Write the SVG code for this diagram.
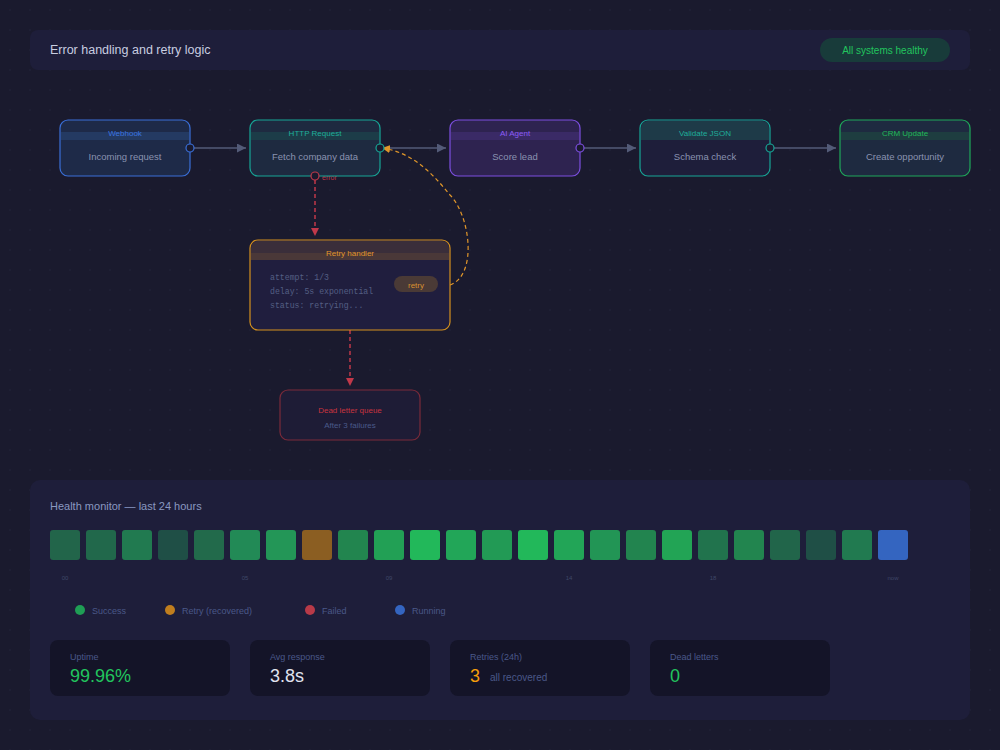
<svg xmlns="http://www.w3.org/2000/svg" width="1000" height="750" viewBox="0 0 1000 750">
<defs>
<pattern id="dots" x="0" y="0" width="20" height="20" patternUnits="userSpaceOnUse">
<circle cx="10" cy="10" r="0.9" fill="#1f2036"/>
</pattern>
<marker id="arrGray" viewBox="0 0 10 10" refX="10" refY="5" markerWidth="9" markerHeight="9" markerUnits="userSpaceOnUse" orient="auto">
<path d="M0,0 L10,5 L0,10 z" fill="#535b78"/>
</marker>
<marker id="arrRed" viewBox="0 0 10 10" refX="10" refY="5" markerWidth="8" markerHeight="8" markerUnits="userSpaceOnUse" orient="auto">
<path d="M0,0 L10,5 L0,10 z" fill="#c0384a"/>
</marker>
<marker id="arrOrange" viewBox="0 0 10 10" refX="10" refY="5" markerWidth="8" markerHeight="8" markerUnits="userSpaceOnUse" orient="auto">
<path d="M0,0 L10,5 L0,10 z" fill="#e0962a"/>
</marker>
</defs>
<style>
text{font-family:"Liberation Sans",Arial,sans-serif}
.hdr{font-size:8px;text-anchor:middle}
.body{font-size:9.5px;fill:#8a93b0;text-anchor:middle}
.mono{font-family:"Liberation Mono","DejaVu Sans Mono",monospace;font-size:8.2px;fill:#545e84}
.conn{stroke:#535b78;stroke-width:1.5;fill:none}
.port{fill:#1a1a2e;stroke-width:1.2}
.lg{font-size:9px;fill:#4a5888}
.card{fill:#141428}
.clab{font-size:9px;fill:#4a5888}
.cval{font-size:18px}
.tl{font-size:6px;fill:#3e4768;text-anchor:middle}
</style>
<rect width="1000" height="750" fill="#1a1a2e"/>
<rect width="1000" height="750" fill="url(#dots)"/>

<g id="header">
<rect x="30" y="30" width="940" height="40" rx="8" fill="#1e1e3a"/>
<text x="50" y="54" font-size="12.5" fill="#c8cde0">Error handling and retry logic</text>
<rect x="820" y="38" width="130" height="24" rx="12" fill="#183b3a"/>
<text x="885" y="54" font-size="10" fill="#22c55e" text-anchor="middle">All systems healthy</text>
</g>

<g id="connectors">
<line class="conn" x1="194" y1="148" x2="246" y2="148" marker-end="url(#arrGray)"/>
<line class="conn" x1="384" y1="148" x2="446" y2="148" marker-end="url(#arrGray)"/>
<line class="conn" x1="584" y1="148" x2="636" y2="148" marker-end="url(#arrGray)"/>
<line class="conn" x1="774" y1="148" x2="836" y2="148" marker-end="url(#arrGray)"/>
<line x1="315" y1="180" x2="315" y2="236" stroke="#c0384a" stroke-width="1.5" stroke-dasharray="4,3" marker-end="url(#arrRed)"/>
<line x1="350" y1="330" x2="350" y2="386" stroke="#c0384a" stroke-width="1.5" stroke-dasharray="4,3" marker-end="url(#arrRed)"/>
<path d="M450,285 C478,275 470,215 450,195 C430,170 410,152 382,148" fill="none" stroke="#e0962a" stroke-width="1.2" stroke-dasharray="4,3" marker-end="url(#arrOrange)"/>
<text x="322" y="180" font-size="7" fill="#c0384a">error</text>
</g>

<g id="node-webhook">
<rect x="60" y="120" width="130" height="56" rx="8" fill="#1e2a48" stroke="#3a6fd8" stroke-width="1.2"/>
<rect x="61" y="132" width="128" height="8" fill="#243a62"/>
<text class="hdr" x="125" y="136" fill="#3b74e0">Webhook</text>
<text class="body" x="125" y="160">Incoming request</text>
<circle class="port" cx="190" cy="148" r="4" stroke="#3a6fd8"/>
</g>

<g id="node-http">
<rect x="250" y="120" width="130" height="56" rx="8" fill="#1e2a40" stroke="#17a596" stroke-width="1.2"/>
<rect x="251" y="132" width="128" height="8" fill="#1c3c48"/>
<text class="hdr" x="315" y="136" fill="#1fae9a">HTTP Request</text>
<text class="body" x="315" y="160">Fetch company data</text>
<circle class="port" cx="380" cy="148" r="4" stroke="#17a596"/>
<circle class="port" cx="315" cy="176" r="4" stroke="#c0384a"/>
</g>

<g id="node-ai">
<rect x="450" y="120" width="130" height="56" rx="8" fill="#2e2350" stroke="#7c4fe0" stroke-width="1.2"/>
<rect x="451" y="132" width="128" height="8" fill="#3a2a66"/>
<text class="hdr" x="515" y="136" fill="#8b5cf6">AI Agent</text>
<text class="body" x="515" y="160">Score lead</text>
<circle class="port" cx="580" cy="148" r="4" stroke="#7c4fe0"/>
</g>

<g id="node-validate">
<rect x="640" y="120" width="130" height="56" rx="8" fill="#1e1e3a" stroke="#17a596" stroke-width="1.2"/>
<rect x="641" y="121" width="128" height="19" rx="7" fill="#1e3a48"/>
<rect x="641" y="132" width="128" height="8" fill="#1e3a48"/>
<text class="hdr" x="705" y="136" fill="#1fae9a">Validate JSON</text>
<text class="body" x="705" y="160">Schema check</text>
<circle class="port" cx="770" cy="148" r="4" stroke="#17a596"/>
</g>

<g id="node-crm">
<rect x="840" y="120" width="130" height="56" rx="8" fill="#1e2a40" stroke="#1fa85a" stroke-width="1.2"/>
<rect x="841" y="132" width="128" height="8" fill="#1e3d40"/>
<text class="hdr" x="905" y="136" fill="#22b85a">CRM Update</text>
<text class="body" x="905" y="160">Create opportunity</text>
</g>

<g id="node-retry">
<rect x="250" y="240" width="200" height="90" rx="8" fill="#201e3e" stroke="#d4901e" stroke-width="1.2"/>
<path d="M251,260 V248 A7,7 0 0 1 258,241 H442 A7,7 0 0 1 449,248 V260 z" fill="#3a2e3a"/>
<rect x="251" y="253" width="198" height="7" fill="#4a3838"/>
<text class="hdr" x="350" y="256" fill="#e0962a">Retry handler</text>
<text class="mono" x="270" y="280">attempt: 1/3</text>
<text class="mono" x="270" y="294">delay: 5s exponential</text>
<text class="mono" x="270" y="308">status: retrying...</text>
<rect x="394" y="276" width="44" height="16" rx="8" fill="#4a3a36"/>
<text x="416" y="287.5" font-size="8" fill="#d89030" text-anchor="middle">retry</text>
</g>

<g id="node-dlq">
<rect x="280" y="390" width="140" height="50" rx="8" fill="#1e1c36" stroke="#7a2a3a" stroke-width="1.2"/>
<text x="350" y="413" font-size="8" fill="#c8343f" text-anchor="middle">Dead letter queue</text>
<text x="350" y="428" font-size="8" fill="#4a5a8a" text-anchor="middle">After 3 failures</text>
</g>

<g id="health-monitor">
<rect x="30" y="480" width="940" height="240" rx="10" fill="#1e1e3a"/>
<text x="50" y="510" font-size="11" fill="#8a98c0">Health monitor — last 24 hours</text>
<g id="bars">
<rect x="50" y="530" width="30" height="30" rx="3" fill="#22654a"/>
<rect x="86" y="530" width="30" height="30" rx="3" fill="#21684b"/>
<rect x="122" y="530" width="30" height="30" rx="3" fill="#217a50"/>
<rect x="158" y="530" width="30" height="30" rx="3" fill="#1f4f46"/>
<rect x="194" y="530" width="30" height="30" rx="3" fill="#226a4b"/>
<rect x="230" y="530" width="30" height="30" rx="3" fill="#228a56"/>
<rect x="266" y="530" width="30" height="30" rx="3" fill="#239657"/>
<rect x="302" y="530" width="30" height="30" rx="3" fill="#8b5e22"/>
<rect x="338" y="530" width="30" height="30" rx="3" fill="#22854f"/>
<rect x="374" y="530" width="30" height="30" rx="3" fill="#22a055"/>
<rect x="410" y="530" width="30" height="30" rx="3" fill="#22b85a"/>
<rect x="446" y="530" width="30" height="30" rx="3" fill="#22a658"/>
<rect x="482" y="530" width="30" height="30" rx="3" fill="#229a55"/>
<rect x="518" y="530" width="30" height="30" rx="3" fill="#22b85a"/>
<rect x="554" y="530" width="30" height="30" rx="3" fill="#22a557"/>
<rect x="590" y="530" width="30" height="30" rx="3" fill="#229555"/>
<rect x="626" y="530" width="30" height="30" rx="3" fill="#22844f"/>
<rect x="662" y="530" width="30" height="30" rx="3" fill="#22a455"/>
<rect x="698" y="530" width="30" height="30" rx="3" fill="#21734d"/>
<rect x="734" y="530" width="30" height="30" rx="3" fill="#22854f"/>
<rect x="770" y="530" width="30" height="30" rx="3" fill="#21654a"/>
<rect x="806" y="530" width="30" height="30" rx="3" fill="#1f4f46"/>
<rect x="842" y="530" width="30" height="30" rx="3" fill="#217a50"/>
<rect x="878" y="530" width="30" height="30" rx="3" fill="#3465c0"/>
</g>
<text class="tl" x="65" y="580">00</text>
<text class="tl" x="245" y="580">05</text>
<text class="tl" x="389" y="580">09</text>
<text class="tl" x="569" y="580">14</text>
<text class="tl" x="713" y="580">18</text>
<text class="tl" x="893" y="580">now</text>
<g id="legend">
<circle cx="80" cy="610" r="5" fill="#1f9e55"/>
<text class="lg" x="92" y="614">Success</text>
<circle cx="170" cy="610" r="5" fill="#c07e1e"/>
<text class="lg" x="182" y="614">Retry (recovered)</text>
<circle cx="310" cy="610" r="5" fill="#b83a48"/>
<text class="lg" x="322" y="614">Failed</text>
<circle cx="400" cy="610" r="5" fill="#3465c0"/>
<text class="lg" x="412" y="614">Running</text>
</g>
</g>

<g id="stat-uptime">
<rect class="card" x="50" y="640" width="180" height="56" rx="8"/>
<text class="clab" x="70" y="660">Uptime</text>
<text class="cval" x="70" y="682" fill="#22c55e">99.96%</text>
</g>
<g id="stat-avg">
<rect class="card" x="250" y="640" width="180" height="56" rx="8"/>
<text class="clab" x="270" y="660">Avg response</text>
<text class="cval" x="270" y="682" fill="#e0e4f0">3.8s</text>
</g>
<g id="stat-retries">
<rect class="card" x="450" y="640" width="180" height="56" rx="8"/>
<text class="clab" x="470" y="660">Retries (24h)</text>
<text class="cval" x="470" y="682" fill="#f59e0b">3</text>
<text x="490" y="681" font-size="10" fill="#4a5888">all recovered</text>
</g>
<g id="stat-dead">
<rect class="card" x="650" y="640" width="180" height="56" rx="8"/>
<text class="clab" x="670" y="660">Dead letters</text>
<text class="cval" x="670" y="682" fill="#22c55e">0</text>
</g>
</svg>
